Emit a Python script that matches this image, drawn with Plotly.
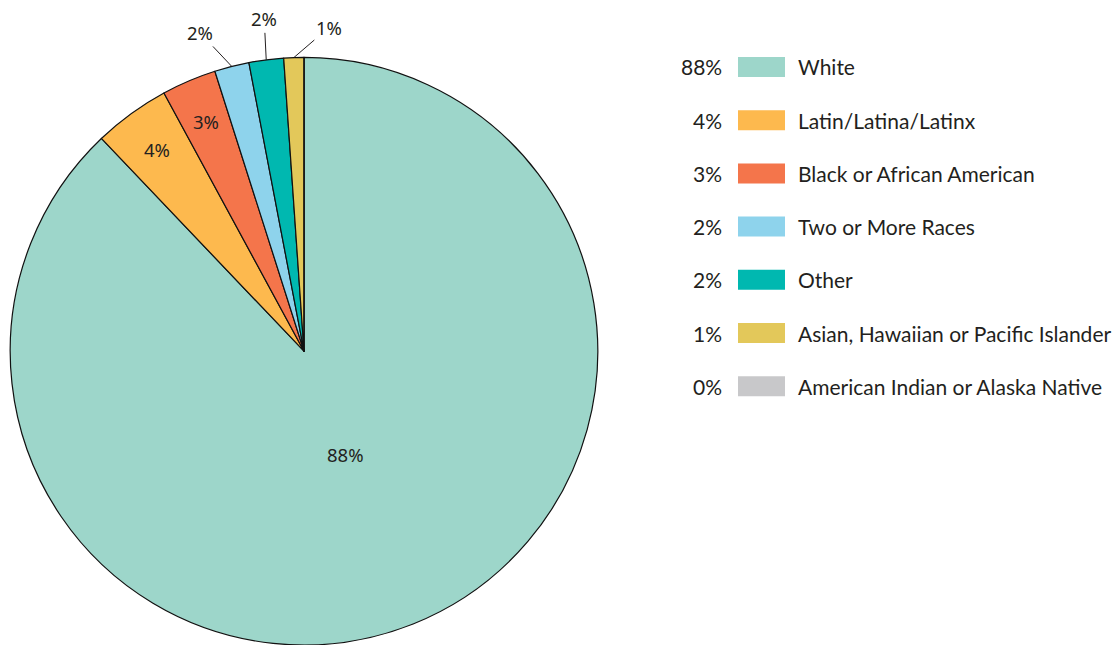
import math
import plotly.graph_objects as go

categories = ["White", "Latin/Latina/Latinx", "Black or African American",
              "Two or More Races", "Other", "Asian, Hawaiian or Pacific Islander",
              "American Indian or Alaska Native"]
values = [87.8, 4.2, 3.0, 1.9, 1.9, 1.1, 0.0]
pct_labels = ["88%", "4%", "3%", "2%", "2%", "1%", "0%"]
colors = ["#9dd6ca", "#fdb94e", "#f4754b", "#8ed3ec", "#00b8b0", "#e3c85a", "#c8c8ca"]

# slice-label placement style: radial fraction for inside labels,
# pixel offsets (ax, ay) for outside labels with leader lines
label_style = [
    ("in", 0.38, None),
    ("in", 0.85, None),
    ("in", 0.85, None),
    ("out", 1.0, (-32, -34)),
    ("out", 1.0, (-2, -41)),
    ("out", 1.0, (35, -30)),
    ("none", 0, None),
]

text_color = "#231f20"
W, H = 1116, 645
dom_x = [0, 0.5448]
dom_y = [0, 0.911]

fig = go.Figure()
fig.add_trace(go.Pie(
    labels=categories, values=values, text=pct_labels,
    textinfo="none", sort=False, direction="clockwise", rotation=0,
    marker=dict(colors=colors, line=dict(color="#111111", width=1.2)),
    domain=dict(x=dom_x, y=dom_y),
    showlegend=False, hoverinfo="label+text",
))

# slice labels placed along each slice's mid angle
cx = (dom_x[0] + dom_x[1]) / 2
cy = (dom_y[0] + dom_y[1]) / 2
r_px = min((dom_x[1] - dom_x[0]) * W, (dom_y[1] - dom_y[0]) * H) / 2
total = sum(values)
cum = 0.0
pie_font = dict(family="Noto Sans", size=18.5, color=text_color)
for v, txt, (kind, frac, off) in zip(values, pct_labels, label_style):
    mid = 2 * math.pi * (cum + v / 2) / total
    cum += v
    if kind == "none":
        continue
    px = cx + frac * r_px * math.sin(mid) / W
    py = cy + frac * r_px * math.cos(mid) / H
    if kind == "in":
        fig.add_annotation(xref="paper", yref="paper", x=px, y=py, text=txt,
                           showarrow=False, xanchor="center", yanchor="middle",
                           font=pie_font)
    else:
        fig.add_annotation(xref="paper", yref="paper", x=px, y=py, text=txt,
                           showarrow=True, arrowhead=0, arrowwidth=1,
                           arrowcolor=text_color, standoff=0,
                           xanchor="center", yanchor="middle",
                           ax=off[0], ay=off[1], font=pie_font)

# manual legend (percent | swatch | label)
legend_font = dict(family="Lato", size=21, color=text_color)
row_top = 57
row_gap = 53.2
sw_x0, sw_x1, sw_h = 738, 785, 20
for i, (cat, pct, col) in enumerate(zip(categories, pct_labels, colors)):
    y0 = row_top + i * row_gap
    yc = y0 + sw_h / 2
    fig.add_shape(type="rect", xref="paper", yref="paper",
                  x0=sw_x0 / W, x1=sw_x1 / W,
                  y0=1 - y0 / H, y1=1 - (y0 + sw_h) / H,
                  fillcolor=col, line=dict(width=0))
    fig.add_annotation(xref="paper", yref="paper", x=724 / W, y=1 - yc / H,
                       text=pct, showarrow=False, xanchor="right", yanchor="middle",
                       font=legend_font)
    fig.add_annotation(xref="paper", yref="paper", x=796 / W, y=1 - yc / H,
                       text=cat, showarrow=False, xanchor="left", yanchor="middle",
                       font=legend_font)

fig.update_layout(width=W, height=H, margin=dict(l=0, r=0, t=0, b=0),
                  paper_bgcolor="white", plot_bgcolor="white")
fig.write_html("out.html", config={"displayModeBar": False},
               post_script="document.body.style.margin='0';")
